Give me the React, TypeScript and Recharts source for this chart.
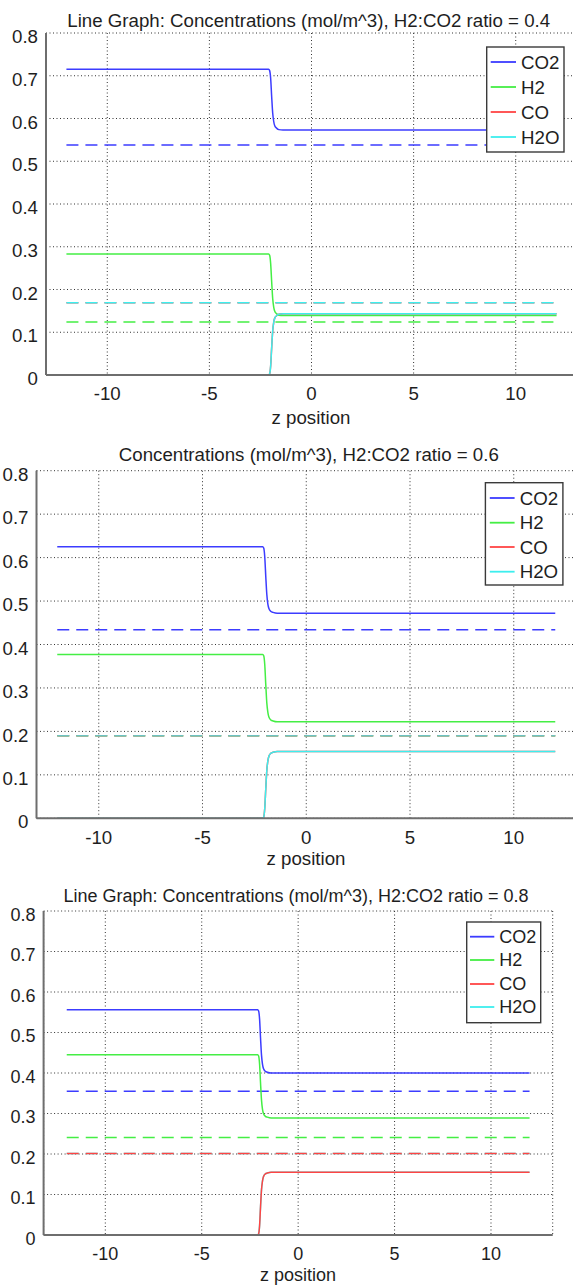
import React from 'react';
import { LineChart, Line, XAxis, YAxis, CartesianGrid } from 'recharts';

// ---------- shared axes / categories ----------
const zStep = [-12, -2.1, -2.05, -2.0, -1.95, -1.9, -1.85, -1.8, -1.7, -1.6, -1.4, 12];
const zFlat = [-12, 12];
const xTicks = [-10, -5, 0, 5, 10];
const yTicks = [0, 0.1, 0.2, 0.3, 0.4, 0.5, 0.6, 0.7, 0.8];
const speciesNames = ['CO2', 'H2', 'CO', 'H2O'];

// ---------- ratio 0.4 ----------
const co2_r04 = [0.715, 0.715, 0.712, 0.694, 0.651, 0.613, 0.593, 0.583, 0.577, 0.574, 0.573, 0.573];
const h2_r04 = [0.283, 0.283, 0.28, 0.261, 0.218, 0.179, 0.159, 0.149, 0.143, 0.14, 0.139, 0.139];
const co_r04 = [0, 0, 0.003, 0.021, 0.064, 0.103, 0.123, 0.133, 0.139, 0.142, 0.143, 0.143];
const h2o_r04 = [0, 0, 0.003, 0.021, 0.064, 0.103, 0.123, 0.133, 0.139, 0.142, 0.143, 0.143];
const co2Eq_r04 = [0.538, 0.538];
const h2Eq_r04 = [0.124, 0.124];
const coEq_r04 = [0.169, 0.169];
const h2oEq_r04 = [0.169, 0.169];

// ---------- ratio 0.6 ----------
const co2_r06 = [0.625, 0.625, 0.622, 0.602, 0.556, 0.515, 0.493, 0.483, 0.476, 0.474, 0.472, 0.472];
const h2_r06 = [0.377, 0.377, 0.374, 0.354, 0.307, 0.265, 0.244, 0.233, 0.226, 0.224, 0.222, 0.222];
const co_r06 = [0, 0, 0.003, 0.023, 0.069, 0.111, 0.132, 0.143, 0.15, 0.152, 0.154, 0.154];
const h2o_r06 = [0, 0, 0.003, 0.023, 0.069, 0.111, 0.132, 0.143, 0.15, 0.152, 0.154, 0.154];
const co2Eq_r06 = [0.434, 0.434];
const h2Eq_r06 = [0.19, 0.19];
const coEq_r06 = [0.19, 0.19];
const h2oEq_r06 = [0.19, 0.19];

// ---------- ratio 0.8 ----------
const co2_r08 = [0.556, 0.556, 0.553, 0.533, 0.486, 0.444, 0.422, 0.411, 0.404, 0.402, 0.4, 0.4];
const h2_r08 = [0.445, 0.445, 0.442, 0.422, 0.375, 0.333, 0.311, 0.3, 0.293, 0.291, 0.289, 0.289];
const co_r08 = [0, 0, 0.003, 0.023, 0.07, 0.112, 0.133, 0.144, 0.151, 0.153, 0.155, 0.155];
const h2o_r08 = [0, 0, 0.003, 0.023, 0.07, 0.112, 0.133, 0.144, 0.151, 0.153, 0.155, 0.155];
const co2Eq_r08 = [0.355, 0.355];
const h2Eq_r08 = [0.241, 0.241];
const coEq_r08 = [0.201, 0.201];
const h2oEq_r08 = [0.201, 0.201];

// ---------- styles ----------
const FONT = '"Liberation Sans", Arial, Helvetica, sans-serif';
const BLUE = '#3c3cff';
const GREEN = '#44ee44';
const RED = '#ff4444';
const CYAN = '#3deeee';
const AXIS = '#6e6e6e';
const speciesColors = [BLUE, GREEN, RED, CYAN];

const mk = (zs: number[], vs: number[]) => zs.map((z, i) => ({ z, v: vs[i] }));

type S = { id: string; data: { z: number; v: number }[]; color: string; dashed?: boolean; opacity?: number };

const panels = [
  {
    top: 0, width: 590, height: 430, xDomain: [-13, 13], yAxisWidth: 40,
    margin: { top: 33, right: 13, bottom: 25, left: 6 }, fs: 18.7,
    title: 'Line Graph: Concentrations (mol/m^3), H2:CO2 ratio = 0.4',
    titleX: 308.7, titleY: 27, xlabX: 311, xlabY: 424,
    legend: { x: 486.7, y: 47, w: 77.3, h: 105, rows: [62, 87, 112, 137], l1: 490.7, l2: 516, tx: 521 },
    series: [
      { id: 'co2eq', data: mk(zFlat, co2Eq_r04), color: BLUE, dashed: true },
      { id: 'h2eq', data: mk(zFlat, h2Eq_r04), color: GREEN, dashed: true },
      { id: 'coeq', data: mk(zFlat, coEq_r04), color: RED, dashed: true },
      { id: 'h2oeq', data: mk(zFlat, h2oEq_r04), color: CYAN, dashed: true },
      { id: 'co2', data: mk(zStep, co2_r04), color: BLUE },
      { id: 'h2', data: mk(zStep, h2_r04), color: GREEN },
      { id: 'co', data: mk(zStep, co_r04), color: RED },
      { id: 'h2o', data: mk(zStep, h2o_r04), color: CYAN },
    ] as S[],
  },
  {
    top: 430, width: 590, height: 430, xDomain: [-13, 13], yAxisWidth: 30,
    margin: { top: 40.7, right: 14, bottom: 11.7, left: 6.5 }, fs: 18.7,
    title: 'Concentrations (mol/m^3), H2:CO2 ratio = 0.6',
    titleX: 308.8, titleY: 460.7, xlabX: 306, xlabY: 865,
    legend: { x: 485.4, y: 482.7, w: 77.5, h: 102.3, rows: [498, 522.7, 547, 571.7], l1: 489.8, l2: 514.6, tx: 519.7 },
    series: [
      { id: 'co2eq', data: mk(zFlat, co2Eq_r06), color: BLUE, dashed: true },
      { id: 'h2eq', data: mk(zFlat, h2Eq_r06), color: GREEN, dashed: true },
      { id: 'coeq', data: mk(zFlat, coEq_r06), color: RED, dashed: true },
      { id: 'h2oeq', data: mk(zFlat, h2oEq_r06), color: CYAN, dashed: true, opacity: 0.75 },
      { id: 'co2', data: mk(zStep, co2_r06), color: BLUE },
      { id: 'h2', data: mk(zStep, h2_r06), color: GREEN },
      { id: 'co', data: mk(zStep, co_r06), color: RED },
      { id: 'h2o', data: mk(zStep, h2o_r06), color: CYAN },
    ] as S[],
  },
  {
    top: 860, width: 573, height: 426, xDomain: [-13.2, 13.2], yAxisWidth: 40,
    margin: { top: 51, right: 20.3, bottom: 21, left: 3.6 }, fs: 18,
    title: 'Line Graph: Concentrations (mol/m^3), H2:CO2 ratio = 0.8',
    titleX: 296, titleY: 902.3, xlabX: 298, xlabY: 1281,
    legend: { x: 466.7, y: 922, w: 74, h: 100.7, rows: [936.7, 960, 984, 1007], l1: 470, l2: 494.3, tx: 499.3 },
    series: [
      { id: 'co2eq', data: mk(zFlat, co2Eq_r08), color: BLUE, dashed: true },
      { id: 'h2eq', data: mk(zFlat, h2Eq_r08), color: GREEN, dashed: true },
      { id: 'h2oeq', data: mk(zFlat, h2oEq_r08), color: CYAN, dashed: true },
      { id: 'coeq', data: mk(zFlat, coEq_r08), color: RED, dashed: true },
      { id: 'co2', data: mk(zStep, co2_r08), color: BLUE },
      { id: 'h2', data: mk(zStep, h2_r08), color: GREEN },
      { id: 'h2o', data: mk(zStep, h2o_r08), color: CYAN },
      { id: 'co', data: mk(zStep, co_r08), color: RED },
    ] as S[],
  },
];

function Panel({ cfg }: { cfg: any }) {
  const fs = cfg.fs;
  const XTick = (p: any) => (
    <text x={p.x} y={p.y} dy="0.71em" textAnchor="middle" fontSize={fs} fontFamily={FONT} fill="#1e1e1e">
      {p.payload.value}
    </text>
  );
  const YTick = (p: any) => (
    <text x={p.x} y={p.y + 3.5} dy="0.355em" textAnchor="end" fontSize={fs} fontFamily={FONT} fill="#1e1e1e">
      {p.payload.value}
    </text>
  );
  const axisLine = { stroke: AXIS, strokeWidth: 2 };
  return (
    <div style={{ position: 'absolute', left: 0, top: cfg.top }}>
      <LineChart width={cfg.width} height={cfg.height} margin={cfg.margin}>
        <CartesianGrid stroke="#333" strokeDasharray="1 2.5" strokeWidth={1} />
        <XAxis
          type="number"
          dataKey="z"
          domain={cfg.xDomain}
          ticks={xTicks}
          interval={0}
          allowDataOverflow
          axisLine={axisLine}
          tickLine={false}
          tickMargin={6}
          height={30}
          tick={XTick}
        />
        <XAxis
          xAxisId="top"
          orientation="top"
          type="number"
          dataKey="z"
          domain={cfg.xDomain}
          ticks={xTicks}
          allowDataOverflow
          axisLine={axisLine}
          tickLine={false}
          tick={false}
          height={0}
        />
        <YAxis
          type="number"
          domain={[0, 0.8]}
          ticks={yTicks}
          interval={0}
          allowDataOverflow
          axisLine={axisLine}
          tickLine={false}
          width={cfg.yAxisWidth}
          tick={YTick}
        />
        <YAxis
          yAxisId="right"
          orientation="right"
          type="number"
          domain={[0, 0.8]}
          ticks={yTicks}
          allowDataOverflow
          axisLine={axisLine}
          tickLine={false}
          tick={false}
          width={0}
        />
        {cfg.series.map((s: S) => (
          <Line
            key={s.id}
            data={s.data}
            dataKey="v"
            type="monotone"
            stroke={s.color}
            strokeWidth={1.5}
            strokeOpacity={s.opacity ?? 1}
            strokeDasharray={s.dashed ? '12 7' : undefined}
            dot={false}
            activeDot={false}
            legendType="none"
            isAnimationActive={false}
          />
        ))}
      </LineChart>
    </div>
  );
}

function Overlay() {
  return (
    <svg width={573} height={1286} style={{ position: 'absolute', left: 0, top: 0, pointerEvents: 'none' }}>
      {panels.map((p, i) => (
        <g key={i} fontFamily={FONT} fill="#1e1e1e">
          <text x={p.titleX} y={p.titleY} textAnchor="middle" fontSize={p.fs}>{p.title}</text>
          <text x={p.xlabX} y={p.xlabY} textAnchor="middle" fontSize={p.fs}>z position</text>
          <rect x={p.legend.x} y={p.legend.y} width={p.legend.w} height={p.legend.h} fill="#fff" stroke="#3a3a3a" strokeWidth={1.4} />
          {speciesNames.map((n, k) => (
            <g key={n}>
              <line x1={p.legend.l1} x2={p.legend.l2} y1={p.legend.rows[k]} y2={p.legend.rows[k]} stroke={speciesColors[k]} strokeWidth={1.8} />
              <text x={p.legend.tx} y={p.legend.rows[k] + p.fs * 0.355} fontSize={p.fs}>{n}</text>
            </g>
          ))}
        </g>
      ))}
    </svg>
  );
}

export default function App() {
  return (
    <div style={{ position: 'absolute', left: 0, top: 0, width: 573, height: 1286, overflow: 'hidden', background: '#fff' }}>
      {panels.map((p, i) => (
        <Panel key={i} cfg={p} />
      ))}
      <Overlay />
    </div>
  );
}
